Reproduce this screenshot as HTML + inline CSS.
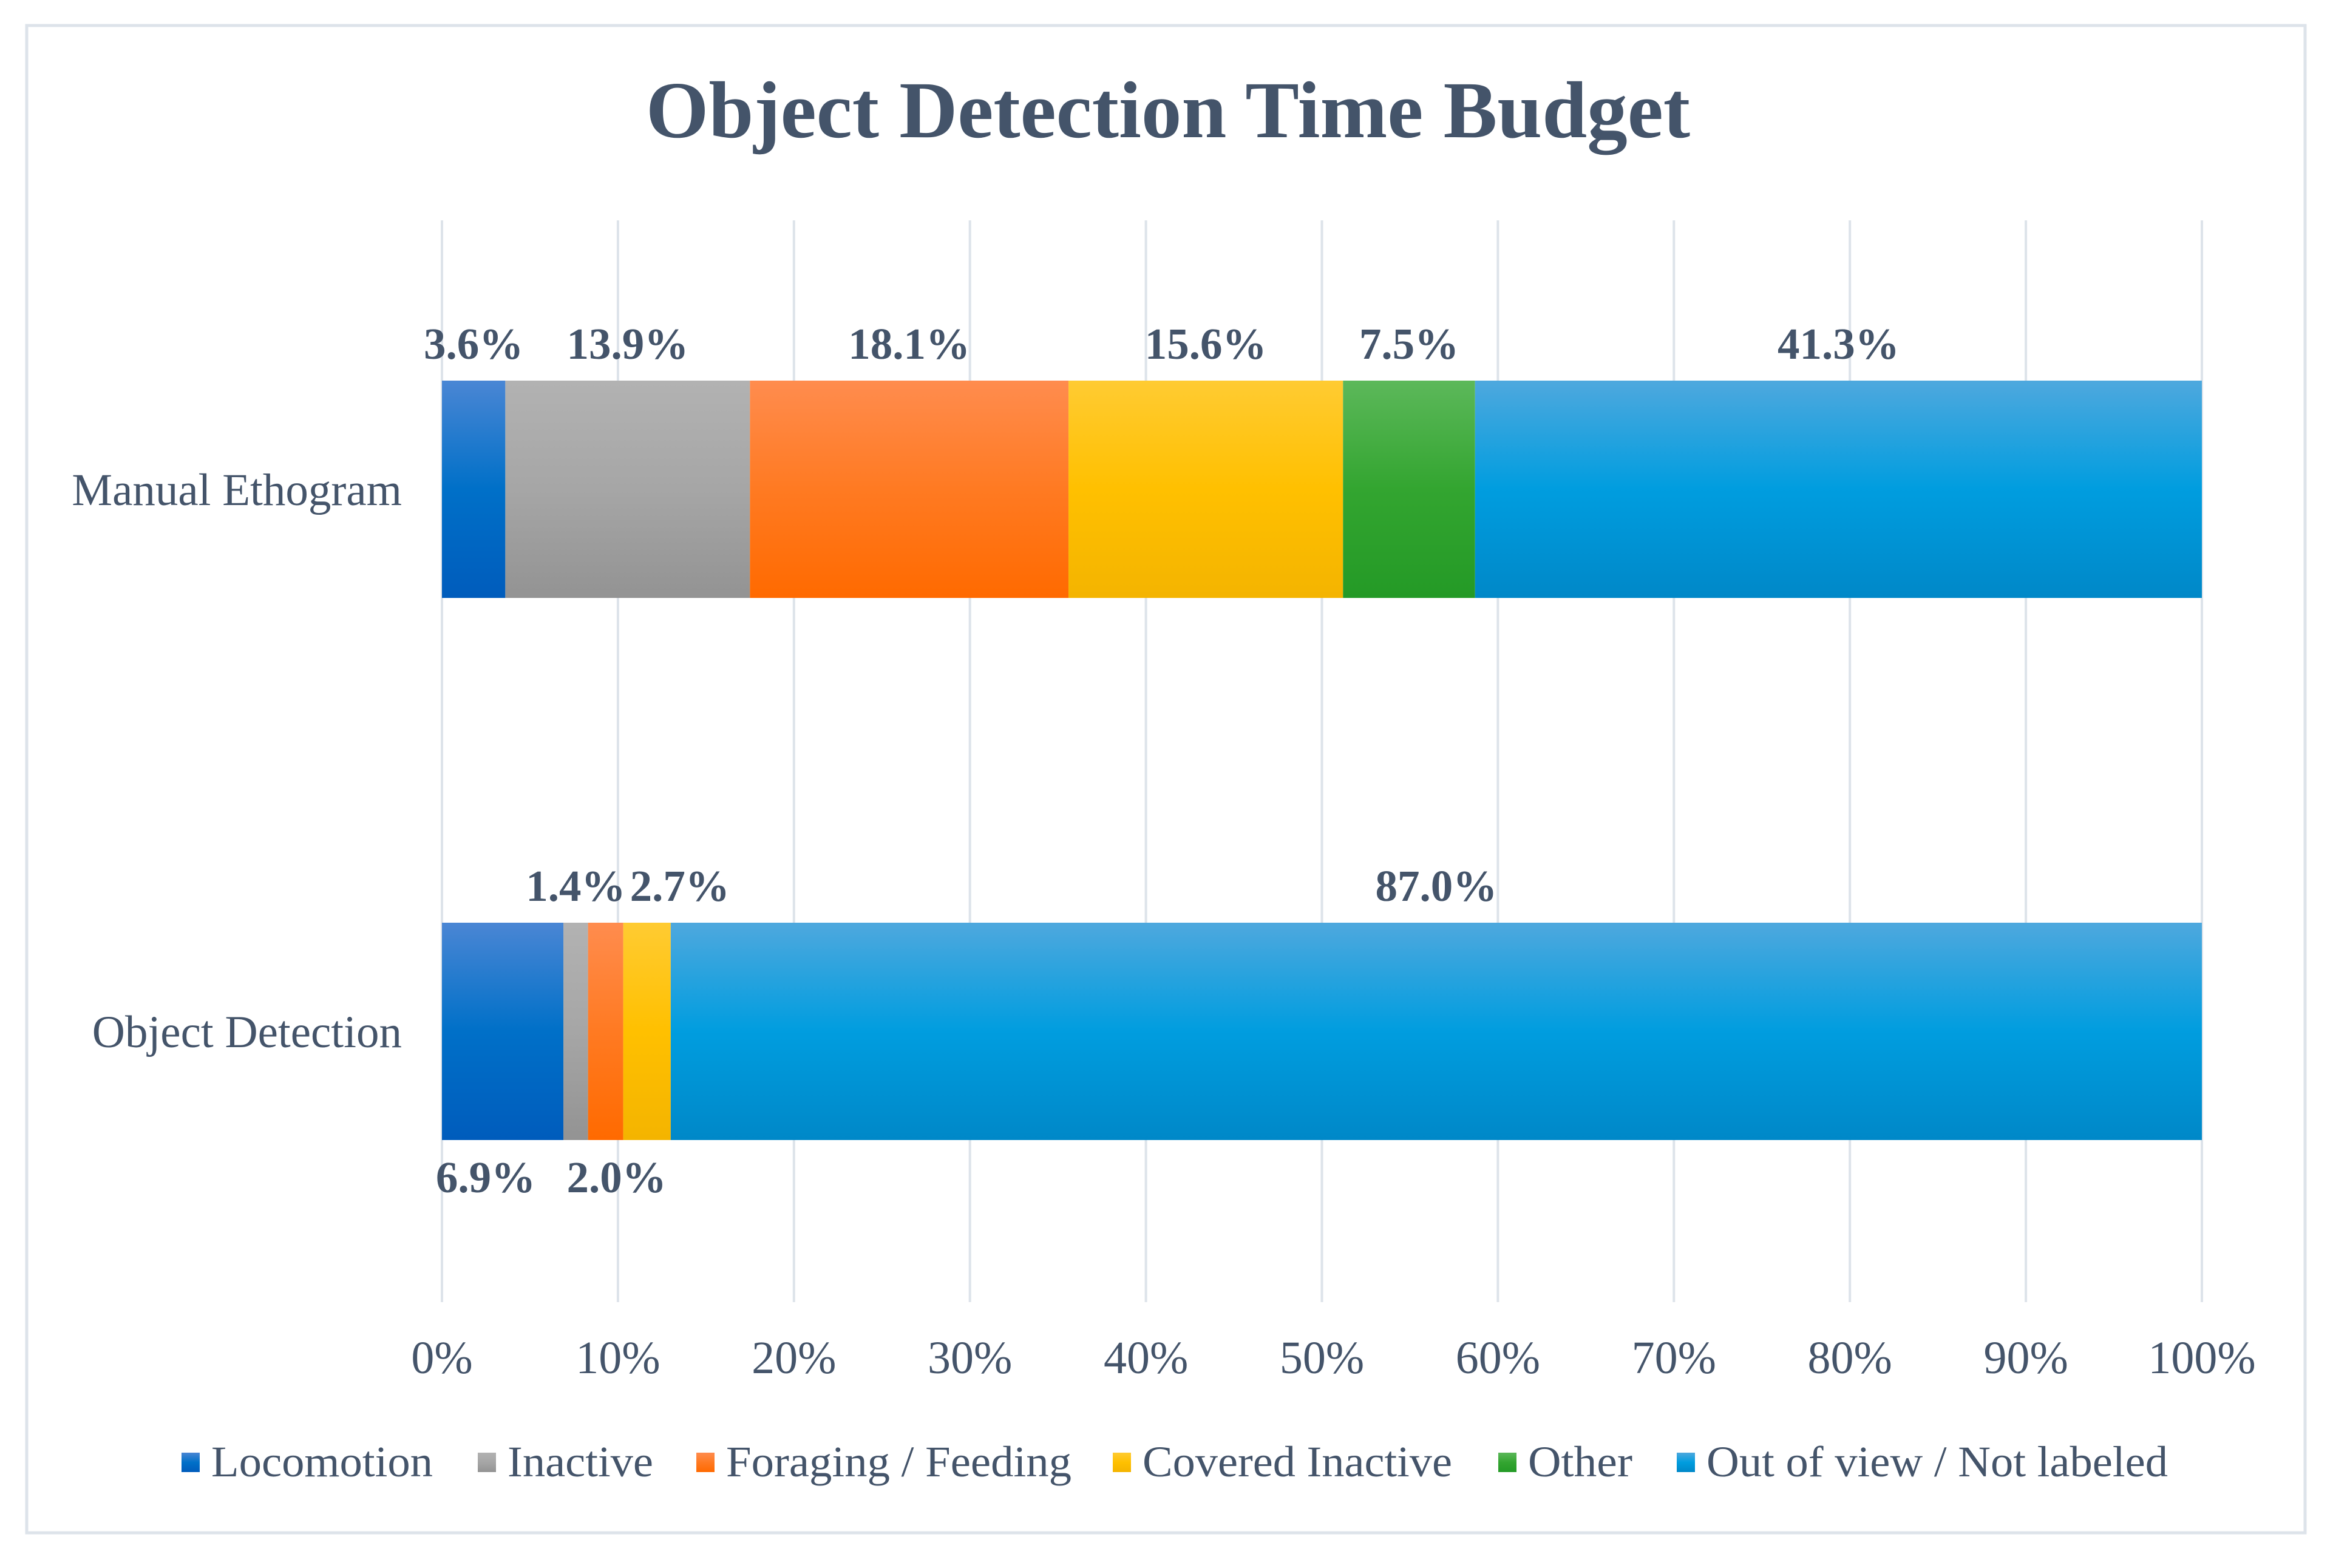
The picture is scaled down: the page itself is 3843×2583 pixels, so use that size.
<!DOCTYPE html>
<html><head><meta charset="utf-8"><style>html,body{margin:0;padding:0;background:#fff}svg{display:block}</style></head>
<body>
<svg id="chart" xmlns="http://www.w3.org/2000/svg" width="3843" height="2583" viewBox="0 0 3843 2583" font-family="'Liberation Serif', serif">
<defs>
<linearGradient id="g0" x1="0" y1="0" x2="0" y2="1"><stop offset="0" stop-color="#4a86d4"/><stop offset="0.5" stop-color="#0070c8"/><stop offset="1" stop-color="#005cbc"/></linearGradient>
<linearGradient id="g1" x1="0" y1="0" x2="0" y2="1"><stop offset="0" stop-color="#b2b2b2"/><stop offset="0.5" stop-color="#a6a6a6"/><stop offset="1" stop-color="#939393"/></linearGradient>
<linearGradient id="g2" x1="0" y1="0" x2="0" y2="1"><stop offset="0" stop-color="#ff8c4e"/><stop offset="0.5" stop-color="#ff7a22"/><stop offset="1" stop-color="#ff6a00"/></linearGradient>
<linearGradient id="g3" x1="0" y1="0" x2="0" y2="1"><stop offset="0" stop-color="#ffcb32"/><stop offset="0.5" stop-color="#ffc000"/><stop offset="1" stop-color="#f4b400"/></linearGradient>
<linearGradient id="g4" x1="0" y1="0" x2="0" y2="1"><stop offset="0" stop-color="#5cb85a"/><stop offset="0.5" stop-color="#33a530"/><stop offset="1" stop-color="#249a26"/></linearGradient>
<linearGradient id="g5" x1="0" y1="0" x2="0" y2="1"><stop offset="0" stop-color="#4ea8de"/><stop offset="0.5" stop-color="#009ddf"/><stop offset="1" stop-color="#0088c8"/></linearGradient>
</defs>
<rect x="44" y="42" width="3753" height="2483" fill="#fff" stroke="#dde3ea" stroke-width="5"/>
<text x="1924" y="226" text-anchor="middle" font-size="133" font-weight="bold" fill="#44546a">Object Detection Time Budget</text>
<g id="grid"></g>
<g id="bars"></g>
<g id="labels"></g>
<g id="axis"></g>
<g id="cats"></g>
<g id="legend"></g>
</svg>
<script>
const categories = ["Manual Ethogram", "Object Detection"];
const seriesNames = ["Locomotion", "Inactive", "Foraging / Feeding", "Covered Inactive", "Other", "Out of view / Not labeled"];
const manualValues = [3.6, 13.9, 18.1, 15.6, 7.5, 41.3];
const detectionValues = [6.9, 1.4, 2.0, 2.7, 0, 87.0];
const tickValues = [0, 10, 20, 30, 40, 50, 60, 70, 80, 90, 100];
const detectionLabelSide = ["below", "above", "below", "above", "none", "above"];

const NS = "http://www.w3.org/2000/svg";
const X0 = 728, X1 = 3627;
const xs = v => X0 + (X1 - X0) * v / 100;
const barTop = [627, 1520], barH = 358;
const textColor = "#44546a";
function mk(tag, attrs, parent, txt){const e=document.createElementNS(NS,tag);for(const k in attrs)e.setAttribute(k,attrs[k]);if(txt!==undefined)e.textContent=txt;parent.appendChild(e);return e;}

const grid = document.getElementById('grid');
const axis = document.getElementById('axis');
tickValues.forEach(t=>{
  const l = mk('line',{x1:xs(t),x2:xs(t),y1:363,y2:2145,stroke:'#dde3ea','stroke-width':4},grid);
  
  
  const tx = mk('text',{x:xs(t),y:2262,'text-anchor':'middle','font-size':76,fill:textColor},axis,t+'%');
  
  
});

const bars = document.getElementById('bars');
const labels = document.getElementById('labels');
const cats = document.getElementById('cats');
[manualValues, detectionValues].forEach((vals, ci)=>{
  let acc = 0;
  const ct = mk('text',{x:662,y:barTop[ci]+barH/2+26,'text-anchor':'end','font-size':75,fill:textColor},cats,categories[ci]);
  
  
  vals.forEach((v, si)=>{
    const a = xs(acc), b = xs(acc+v);
    acc += v;
    if (v <= 0) return;
    const r = mk('rect',{x:a,y:barTop[ci],width:b-a,height:barH,fill:'url(#g'+si+')'},bars);
    
    
    let side = ci===0 ? 'above' : detectionLabelSide[si];
    let cx = (a+b)/2;
    if (ci===1 && si===3) cx += 54;
    if (ci===1 && si===0) cx -= 28;
    if (ci===1 && si===2) cx += 18;
    const y = side==='above' ? barTop[ci]-36 : barTop[ci]+barH+86;
    const t = mk('text',{x:cx,y:y,'text-anchor':'middle','font-size':73,'font-weight':'bold',fill:textColor},labels,v.toFixed(1)+'%');
    
    
  });
});

const legend = document.getElementById('legend');
const legX = [299, 787, 1147, 1833, 2468, 2762];
const legW = [365, 240, 569, 510, 172, 760];
seriesNames.forEach((n,i)=>{
  const s = mk('rect',{x:legX[i],y:2393,width:30,height:32,fill:'url(#g'+i+')'},legend);
  
  
  const t = mk('text',{x:legX[i]+49,y:2432,'font-size':72,fill:textColor,textLength:legW[i],lengthAdjust:'spacingAndGlyphs'},legend,n);
  
  
});
</script>
</body></html>
